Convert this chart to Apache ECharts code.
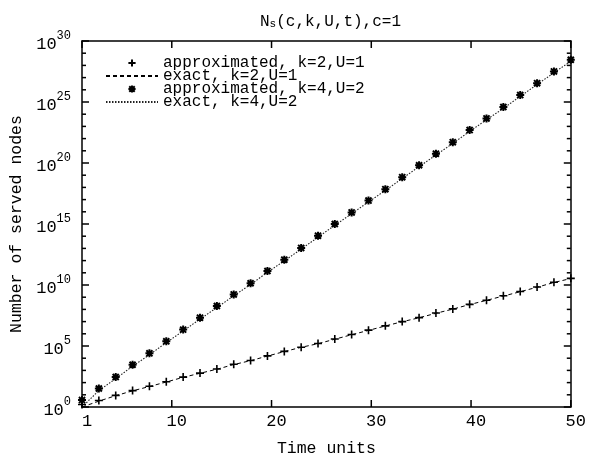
<!DOCTYPE html>
<html><head><meta charset="utf-8">
<script src="https://cdn.jsdelivr.net/npm/echarts@6/dist/echarts.min.js"></script>
<style>html,body{margin:0;padding:0;background:#fff}#c{width:589px;height:462px}</style>
</head><body><div id="c"></div>
<script>
const FONT = '"Liberation Mono", "DejaVu Sans Mono", monospace';

const timeUnits = [1, 2.69, 4.38, 6.07, 7.76, 9.45, 11.14, 12.83, 14.52, 16.21, 17.9, 19.59, 21.28, 22.97, 24.66, 26.34, 28.03, 29.72, 31.41, 33.1, 34.79, 36.48, 38.17, 39.86, 41.55, 43.24, 44.93, 46.62, 48.31, 50];
const approxK2U1 = [1.6, 3.4, 8.9, 22, 50, 117, 282, 603, 1.3e3, 3.2e3, 6.5e3, 1.55e4, 3.6e4, 8.0e4, 1.6e5, 3.7e5, 8.7e5, 2.0e6, 4.5e6, 1.0e7, 2.1e7, 5.0e7, 1.1e8, 2.6e8, 5.7e8, 1.3e9, 2.9e9, 6.9e9, 1.7e10, 3.5e10];
const exactK2U1 = [1, 3.0, 8.5, 21, 48, 112, 270, 580, 1.25e3, 3.0e3, 6.3e3, 1.5e4, 3.5e4, 7.8e4, 1.55e5, 3.6e5, 8.4e5, 1.9e6, 4.4e6, 9.8e6, 2.05e7, 4.8e7, 1.05e8, 2.5e8, 5.5e8, 1.25e9, 2.8e9, 6.6e9, 1.6e10, 3.4e10];
const approxK4U2 = [3.7, 33, 290, 2.9e3, 2.5e4, 2.4e5, 2.2e6, 2.1e7, 1.9e8, 1.7e9, 1.4e10, 1.4e11, 1.2e12, 1.1e13, 1.1e14, 1.0e15, 8.9e15, 8.3e16, 7.2e17, 6.9e18, 6.5e19, 5.8e20, 5.1e21, 5.0e22, 4.5e23, 3.9e24, 3.7e25, 3.5e26, 3.2e27, 2.9e28];
const exactK4U2 = [1, 22, 210, 2.2e3, 1.9e4, 1.9e5, 1.7e6, 1.6e7, 1.4e8, 1.3e9, 1.1e10, 1.1e11, 9.5e11, 8.7e12, 8.3e13, 7.8e14, 6.9e15, 6.5e16, 5.6e17, 5.4e18, 5.0e19, 4.5e20, 4.0e21, 3.9e22, 3.5e23, 3.0e24, 2.9e25, 2.7e26, 2.5e27, 2.2e28];

const xTickValues = [1, 10, 20, 30, 40, 50];
const yDecadeExponents = [0, 1, 2, 3, 4, 5, 6, 7, 8, 9, 10, 11, 12, 13, 14, 15, 16, 17, 18, 19, 20, 21, 22, 23, 24, 25, 26, 27, 28, 29, 30];
const seriesNames = ['approximated, k=2,U=1', 'exact, k=2,U=1', 'approximated, k=4,U=2', 'exact, k=4,U=2'];
const titleText = 'N{s|s}(c,k,U,t),c=1';
const xName = 'Time units';
const yName = 'Number of served nodes';

function pairs(ys) { return timeUnits.map((t, i) => [t, ys[i]]); }

const CROSS = 'path://M5,0L5,10M0,5L10,5';
const STAR = 'path://M5,0L5,10M0,5L10,5M1.2,1.2L8.8,8.8M8.8,1.2L1.2,8.8';

const X_MIN = 1, X_MAX = 50, Y_MIN = 1, Y_MAX = 1e30;
const tickSpecs = [];
xTickValues.forEach(x => { tickSpecs.push([x, Y_MIN, 0, 7]); tickSpecs.push([x, Y_MAX, 1, 7]); });
yDecadeExponents.forEach(e => {
  const L = e % 5 === 0 ? 7 : 4;
  tickSpecs.push([X_MIN, Math.pow(10, e), 2, L]);
  tickSpecs.push([X_MAX, Math.pow(10, e), 3, L]);
});

const chart = echarts.init(document.getElementById('c'));

function axisLineStyle() {
  return {show: true, onZero: false, lineStyle: {color: '#000', width: 1.5}};
}

chart.setOption({
  animation: false,
  title: {
    text: titleText, left: 255, top: 9,
    textStyle: {
      fontFamily: FONT, fontSize: 16, fontWeight: 'normal', color: '#000', lineHeight: 16,
      rich: {s: {fontFamily: FONT, fontSize: 11, color: '#000', verticalAlign: 'bottom', lineHeight: 11}}
    }
  },
  grid: {left: 81, right: 16, top: 41, bottom: 51},
  legend: {
    orient: 'vertical', left: 100, top: 50, itemWidth: 52, itemHeight: 9, itemGap: -3,
    data: seriesNames,
    textStyle: {fontFamily: FONT, fontSize: 16, color: '#000'}
  },
  xAxis: [{
    type: 'value', min: X_MIN, max: X_MAX, position: 'bottom',
    name: xName, nameLocation: 'middle', nameGap: 33,
    nameTextStyle: {fontFamily: FONT, fontSize: 16.5, color: '#000'},
    axisLine: axisLineStyle(),
    axisTick: {show: false},
    axisLabel: {customValues: xTickValues, margin: 6, padding: [0, 0, 0, 10], fontFamily: FONT, fontSize: 17, color: '#000'},
    splitLine: {show: false}
  }, {
    type: 'value', min: X_MIN, max: X_MAX, position: 'top',
    axisLine: axisLineStyle(),
    axisTick: {show: false},
    axisLabel: {show: false},
    splitLine: {show: false}
  }],
  yAxis: [{
    type: 'log', logBase: 10, min: Y_MIN, max: Y_MAX, interval: 5, position: 'left',
    name: yName, nameLocation: 'middle', nameGap: 57, nameRotate: 90,
    nameTextStyle: {fontFamily: FONT, fontSize: 16.5, color: '#000'},
    axisLine: axisLineStyle(),
    axisTick: {show: false},
    splitLine: {show: false},
    axisLabel: {
      margin: 11,
      formatter: v => '{b|10}{p|' + Math.round(Math.log10(v)) + '}',
      rich: {
        b: {fontFamily: FONT, fontSize: 17, color: '#000', padding: [6, 0, 0, 0]},
        p: {fontFamily: FONT, fontSize: 12, color: '#000', padding: [0, 0, 10, 0]}
      }
    }
  }, {
    type: 'log', logBase: 10, min: Y_MIN, max: Y_MAX, interval: 5, position: 'right',
    axisLine: axisLineStyle(),
    axisTick: {show: false},
    splitLine: {show: false},
    axisLabel: {show: false}
  }],
  series: [{
    name: seriesNames[0], type: 'line', data: pairs(approxK2U1),
    symbol: CROSS, symbolSize: 8, showSymbol: true,
    lineStyle: {width: 0, color: '#000'},
    itemStyle: {color: '#000', borderColor: '#000', borderWidth: 1.6}, z: 3
  }, {
    name: seriesNames[1], type: 'line', data: pairs(exactK2U1), symbol: 'none',
    lineStyle: {width: 1, color: '#000', type: [4, 3]},
    itemStyle: {color: 'rgba(0,0,0,0)', borderWidth: 0}, z: 2
  }, {
    name: seriesNames[2], type: 'line', data: pairs(approxK4U2),
    symbol: STAR, symbolSize: 8, showSymbol: true,
    lineStyle: {width: 0, color: '#000'},
    itemStyle: {color: '#000', borderColor: '#000', borderWidth: 2}, z: 3
  }, {
    name: seriesNames[3], type: 'line', data: pairs(exactK4U2), symbol: 'none',
    lineStyle: {width: 1.1, color: '#222', type: [1.5, 1.5]},
    itemStyle: {color: 'rgba(0,0,0,0)', borderWidth: 0}, z: 2
  }, {
    name: '__ticks', type: 'custom', coordinateSystem: 'cartesian2d',
    xAxisIndex: 0, yAxisIndex: 0, silent: true, z: 4, clip: false,
    data: tickSpecs,
    renderItem: function (params, api) {
      const p = api.coord([api.value(0), api.value(1)]);
      const d = api.value(2), L = api.value(3);
      const dx = d === 2 ? L : (d === 3 ? -L : 0);
      const dy = d === 0 ? -L : (d === 1 ? L : 0);
      return {
        type: 'line',
        shape: {x1: p[0], y1: p[1], x2: p[0] + dx, y2: p[1] + dy},
        style: {stroke: '#000', lineWidth: 1.5}
      };
    }
  }]
});
</script>
</body></html>
